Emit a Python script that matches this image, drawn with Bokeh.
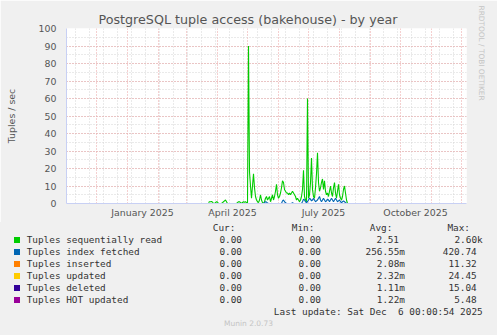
from datetime import datetime, timedelta
import pandas as pd
from bokeh.plotting import figure
from bokeh.layouts import column
from bokeh.models import (FixedTicker, SingleIntervalTicker, DatetimeTickFormatter, Range1d,
                          ColumnDataSource, Title, Div)
from bokeh.embed import file_html
from bokeh.resources import INLINE

# ---------------- data ----------------
x_start = datetime(2024, 11, 1)
x_end = datetime(2025, 12, 6)
data_start = datetime(2025, 3, 23)

# daily values (tuples / sec), Mar 23 2025 .. Aug 9 2025
seq_read_active = [
    0.5, 1, 1, 1.2, 0.8, 0, 0, 0.5, 1, 0.8,
    0, 0, 0, 0, 0.5, 1, 1.5, 2, 1, 0,
    0, 0, 0, 0, 0, 0, 0, 0, 0, 0.5,
    1, 1, 0.5, 0, 0.6, 1, 0.7, 1, 0.5, 0,
    90, 18, 10, 3, 10, 17, 9, 4, 2, 1,
    0.5, 2, 5, 2, 0.5, 0, 1, 3, 4, 2,
    3, 4, 1, 3, 5, 2, 4, 7, 11, 5,
    3, 4, 6, 9, 13, 12, 8, 7, 6, 6,
    5, 6, 5, 6, 7, 6, 5, 4, 2, 3,
    2, 1, 2, 4, 8, 19, 4, 2, 1, 60,
    3, 5, 12, 26, 8, 4, 3, 9, 17, 29,
    12, 7, 9, 12, 14, 8, 13, 7, 5, 6,
    4, 7, 10, 6, 4, 9, 12, 6, 3, 7,
    11, 5, 3, 2, 4, 8, 10, 6, 2, 0,
]
idx_fetch_active = [
    0, 0, 0, 0, 0, 0, 0, 0, 0, 0,
    0, 0, 0, 0, 0, 0, 0, 0, 0, 0,
    0, 0, 0, 0, 0, 0, 0, 0, 0, 0,
    0, 0, 0, 0, 0, 0, 0, 0, 0, 0,
    0, 0, 0, 0, 0, 0, 0, 0, 0, 0,
    0, 0, 0, 0, 0, 0, 0.5, 1, 0.8, 0.3,
    0, 0, 0, 0, 0, 0, 0, 0, 0, 0,
    0, 0, 0, 0, 1.5, 2, 1, 0.5, 0, 0,
    0, 0, 0, 0, 0.5, 0, 0, 0, 0, 0,
    0, 0, 0, 0, 1, 2.5, 2, 1, 0.5, 1,
    2, 3, 2.5, 1.5, 2, 3, 2, 1, 1.5, 2,
    3, 4, 2, 1, 2, 3, 2, 1, 1.5, 2.5,
    2, 1, 2, 3, 2, 1, 2, 3, 2, 1,
    1.5, 2, 1, 0.5, 1, 1.5, 1, 0.5, 0, 0,
]
n_days = (x_end - data_start).days  # through Dec 5
tail = [0.0] * (n_days - len(seq_read_active))
seq_read = seq_read_active + tail
idx_fetch = idx_fetch_active + tail
inserted = [0.0] * n_days
updated = [0.0] * n_days
deleted = [0.0] * n_days
hot_updated = [0.0] * n_days
dates = [data_start + timedelta(days=i) for i in range(n_days)]

series_names = ["Tuples sequentially read", "Tuples index fetched", "Tuples inserted",
                "Tuples updated", "Tuples deleted", "Tuples HOT updated"]
series_colors = ["#00CC00", "#0066B3", "#FF8000", "#FFCC00", "#330099", "#990099"]

cur_vals = ["0.00", "0.00", "0.00", "0.00", "0.00", "0.00"]
min_vals = ["0.00", "0.00", "0.00", "0.00", "0.00", "0.00"]
avg_vals = ["2.51", "256.55m", "2.08m", "2.32m", "1.11m", "1.22m"]
max_vals = ["2.60k", "420.74", "11.32", "24.45", "15.04", "5.48"]
col_headers = ["Cur:", "Min:", "Avg:", "Max:"]

tick_label_dates = [datetime(2025, 1, 16), datetime(2025, 4, 16), datetime(2025, 7, 16), datetime(2025, 10, 16)]
month_starts = list(pd.date_range("2024-12-01", "2025-12-01", freq="MS"))
biweekly = list(pd.date_range("2024-11-10", "2025-12-05", freq="14D"))

title_text = "PostgreSQL tuple access (bakehouse) - by year"
last_update = "Last update: Sat Dec  6 00:00:54 2025"
version_text = "Munin 2.0.73"
watermark = "RRDTOOL / TOBI OETIKER"


def ms(d):
    return pd.Timestamp(d).value / 1e6

# ---------------- chart ----------------
BG = "#F0F0F0"
TXT = "#555555"
LTXT = "#333333"
FONT = "DejaVu Sans"
MONO = "DejaVu Sans Mono"
AXC = "#c8d0f4"
MAJ = "#eaa0a0"
TOP_H = 222

p = figure(width=497, height=TOP_H, x_axis_type="datetime", output_backend="svg",
           toolbar_location=None,
           x_range=Range1d(x_start, x_end), y_range=Range1d(0, 100),
           min_border_left=66, min_border_right=31, min_border_top=28, min_border_bottom=TOP_H - 203)
p.background_fill_color = "white"
p.border_fill_color = BG
p.outline_line_color = None

p.title.text = title_text
p.title.text_font = FONT
p.title.text_font_size = "12.7px"
p.title.text_font_style = "normal"
p.title.text_color = TXT
p.title.align = "left"
p.title.offset = 32
p.title.standoff = 3

p.add_layout(Title(text=watermark, text_font=FONT, text_font_size="7.4px",
                   text_font_style="normal", text_color="#c4c4c4", align="left",
                   offset=-23, standoff=20), "right")

# y axis
yax = p.yaxis[0]
yax.ticker = SingleIntervalTicker(interval=10, num_minor_ticks=2)
yax.axis_label = "Tuples / sec"
yax.axis_label_text_font = FONT
yax.axis_label_text_font_size = "9.4px"
yax.axis_label_text_font_style = "normal"
yax.axis_label_text_color = TXT
yax.axis_label_standoff = 19
yax.major_label_text_font = FONT
yax.major_label_text_font_size = "9.4px"
yax.major_label_text_color = TXT
yax.major_label_standoff = 6
yax.major_tick_line_color = None
yax.minor_tick_line_color = None
yax.major_tick_out = 0
yax.axis_line_color = AXC

# x axis
xax = p.xaxis[0]
xax.ticker = FixedTicker(ticks=[ms(d) for d in tick_label_dates])
xax.formatter = DatetimeTickFormatter(days="%B %Y", months="%B %Y", years="%B %Y", context=None)
xax.major_label_text_font = FONT
xax.major_label_text_font_size = "9.4px"
xax.major_label_text_color = TXT
xax.major_label_standoff = 3
xax.major_tick_line_color = None
xax.minor_tick_line_color = None
xax.major_tick_out = 0
xax.axis_line_color = AXC

# grids
p.xgrid.ticker = FixedTicker(ticks=[ms(d) for d in month_starts], minor_ticks=[ms(d) for d in biweekly])
p.xgrid.grid_line_color = MAJ
p.xgrid.grid_line_dash = "1 2"
p.xgrid.minor_grid_line_color = "#d4d4d4"
p.xgrid.minor_grid_line_dash = "1 2"
p.ygrid.grid_line_color = MAJ
p.ygrid.grid_line_dash = "1 2"
p.ygrid.minor_grid_line_color = "#d4d4d4"
p.ygrid.minor_grid_line_dash = "1 2"

src = ColumnDataSource(dict(date=dates, s0=seq_read, s1=idx_fetch, s2=inserted,
                            s3=updated, s4=deleted, s5=hot_updated))
for i, c in enumerate(series_colors):
    p.line(x="date", y=f"s{i}", source=src, line_color=c, line_width=1.1)

# ---------------- legend block (HTML, canvas pixel positions minus TOP_H) ----------------
LEG_H = 335 - TOP_H
parts = []


def span(cx, cy, text, align="left", font=MONO, size="9.4px", color=LTXT):
    top = cy - TOP_H - 6
    if align == "left":
        pos = f"left:{cx:.1f}px;"
    elif align == "right":
        pos = f"right:{497 - cx:.1f}px;text-align:right;"
    else:
        pos = f"left:{cx - 100:.1f}px;width:200px;text-align:center;"
    parts.append(
        f'<span style="position:absolute;top:{top:.1f}px;{pos}line-height:12px;'
        f"white-space:pre;font-family:'{font}';font-size:{size};color:{color};\">{text}</span>")


row_y = [240 + 11.95 * i for i in range(len(series_names))]
for hx, h in zip([235.3, 314.3, 392.3, 470], col_headers):
    span(hx, 227.7, h, align="right")
for i, name in enumerate(series_names):
    cy = row_y[i]
    parts.append(f'<div style="position:absolute;left:14px;top:{cy - TOP_H - 3:.1f}px;width:6px;'
                 f'height:6px;background:{series_colors[i]};"></div>')
    span(26.7, cy, name)
    span(242, cy, cur_vals[i], align="right")
    span(321, cy, min_vals[i], align="right")
    a = avg_vals[i]
    span(405 if a[-1].isalpha() else 399, cy, a, align="right")
    m = max_vals[i]
    span(482.7 if m[-1].isalpha() else 476.7, cy, m, align="right")
span(482.7, 311.7, last_update, align="right")
span(248.5, 324, version_text, align="center", font=FONT, size="7.5px", color="#c4c4c4")

html = (f'<div style="position:relative;width:497px;height:{LEG_H}px;background:{BG};'
        f'margin:0;padding:0;overflow:hidden;">' + "".join(parts) + "</div>")
legend = Div(text=html, width=497, height=LEG_H, margin=0)

layout = column(p, legend, spacing=0)
open("out.html", "w").write(file_html(layout, INLINE))
